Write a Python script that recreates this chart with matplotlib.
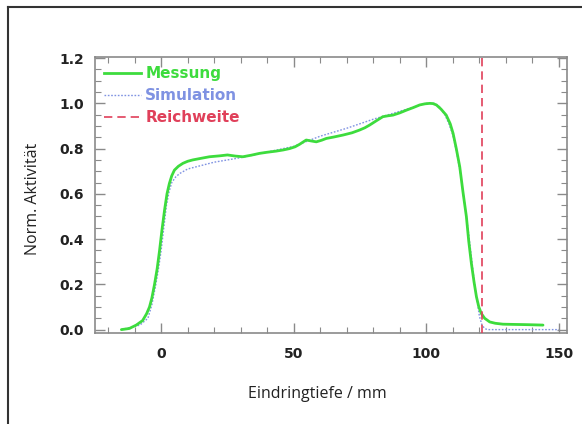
import numpy as np
import matplotlib
matplotlib.use("Agg")
import matplotlib.pyplot as plt
from matplotlib.lines import Line2D
from matplotlib.ticker import MultipleLocator

# ---- data ----
mess_x = [-15, -12, -9.4, -7, -5.5, -4.4, -3.5, -2.5, -1.5, -0.6, 0.3, 1.3, 2.2, 3.1,
          4.0, 5.0, 6.5, 8.2, 10, 11.9, 15, 18.2, 22, 25, 28, 30.8, 34, 37.1, 40,
          43.4, 46, 48.4, 50.5, 52.2, 53.5, 54.7, 56.5, 58.5, 60.5, 62.3, 65, 68.6,
          72, 74.8, 76.8, 78.6, 81, 83.6, 85.5, 87.4, 90, 92.5, 95, 97.5, 99.5, 101.3,
          102.5, 103.8, 105.5, 107.5, 109, 110.1, 111.3, 112.6, 113.8, 115.1, 116,
          117.0, 118, 118.9, 119.8, 120.8, 122, 123.9, 126, 128.9, 133, 137.7, 141, 144]
mess_y = [0.0, 0.005, 0.02, 0.04, 0.07, 0.10, 0.14, 0.20, 0.27, 0.35, 0.44, 0.53, 0.60,
          0.646, 0.68, 0.705, 0.722, 0.735, 0.744, 0.75, 0.757, 0.764, 0.768, 0.772,
          0.767, 0.764, 0.771, 0.779, 0.784, 0.789, 0.794, 0.80, 0.808, 0.819, 0.829,
          0.838, 0.834, 0.83, 0.837, 0.845, 0.851, 0.86, 0.87, 0.882, 0.892, 0.904,
          0.922, 0.941, 0.945, 0.948, 0.958, 0.97, 0.981, 0.993, 0.998, 1.0, 0.999,
          0.993, 0.975, 0.948, 0.91, 0.867, 0.80, 0.72, 0.61, 0.50, 0.39, 0.292, 0.21,
          0.145, 0.10, 0.07, 0.05, 0.034, 0.028, 0.024, 0.023, 0.022, 0.021, 0.02]

sim_x = [-15, -8, -5, -3.5, -2, -1, 0, 1, 2, 3, 4, 5.5, 7, 10, 15, 20, 30, 40, 50, 60,
         70, 80, 90, 100, 103, 105, 107, 108.5, 110, 111.5, 113, 114.5, 116, 117, 118,
         119, 120, 121, 122, 123, 150]
sim_y = [0.0, 0.02, 0.05, 0.11, 0.2, 0.27, 0.35, 0.45, 0.55, 0.61, 0.65, 0.675, 0.69,
         0.71, 0.725, 0.74, 0.76, 0.785, 0.81, 0.855, 0.89, 0.93, 0.965, 1.0, 1.0,
         0.985, 0.95, 0.91, 0.86, 0.78, 0.68, 0.55, 0.42, 0.32, 0.22, 0.14, 0.06,
         0.02, 0.005, 0.0, 0.0]

reichweite = 121.0

GREEN = "#3ddc3d"
BLUE = "#7f92e2"
RED = "#e0405a"
FRAME = "#8a8a8a"

fig = plt.figure(figsize=(5.82, 4.24), dpi=100)
ax = fig.add_axes([0.163, 0.2146, 0.811, 0.651])

ax.plot(sim_x, sim_y, color=BLUE, lw=1.0, ls=(0, (1.2, 1.2)), zorder=2)
ax.plot(mess_x, mess_y, color=GREEN, lw=2.0, zorder=3,
        solid_joinstyle="round", solid_capstyle="round")
ax.axvline(reichweite, color=RED, lw=1.2, ls=(0, (5, 3)), zorder=4)

ax.set_xlim(-25, 153)
ax.set_ylim(-0.015, 1.205)
ax.set_xticks([0, 50, 100, 150])
ax.set_yticks([0.0, 0.2, 0.4, 0.6, 0.8, 1.0, 1.2])
ax.set_yticklabels(["0.0", "0.2", "0.4", "0.6", "0.8", "1.0", "1.2"])
ax.xaxis.set_minor_locator(MultipleLocator(10))
ax.yaxis.set_minor_locator(MultipleLocator(0.05))
ax.tick_params(which="both", direction="in", top=True, right=True, color=FRAME)
ax.tick_params(which="major", length=7, width=1.0)
ax.tick_params(which="minor", length=4, width=0.8)
ax.tick_params(axis="x", which="major", pad=10)
ax.tick_params(axis="y", which="major", pad=8)
for lab in ax.get_xticklabels() + ax.get_yticklabels():
    lab.set_fontsize(10)
    lab.set_fontweight("bold")
    lab.set_color("#222222")
for sp in ax.spines.values():
    sp.set_color(FRAME)
    sp.set_linewidth(1.2)

# legend, no frame, coloured text
handles = [Line2D([], [], color=GREEN, lw=2.0),
           Line2D([], [], color=BLUE, lw=1.0, ls=(0, (1.2, 1.2))),
           Line2D([], [], color=RED, lw=1.2, ls=(0, (5, 3)))]
leg = ax.legend(handles, ["Messung", "Simulation", "Reichweite"], loc="upper left",
                frameon=False, handlelength=2.4, handletextpad=0.3,
                labelspacing=0.45, borderaxespad=0.3, borderpad=0.3,
                prop={"weight": "bold", "size": 11})
for txt, c in zip(leg.get_texts(), [GREEN, BLUE, RED]):
    txt.set_color(c)

fig.text(0.545, 0.07, "Eindringtiefe / mm", ha="center", va="center",
         fontsize=11.5, family="Open Sans", color="#222222")
fig.text(0.057, 0.53, "Norm. Aktivität", ha="center", va="center", rotation=90,
         fontsize=11.5, family="Open Sans", color="#222222")

# outer frame (top and left edges)
fig.add_artist(Line2D([0.0137, 1.0], [0.983, 0.983], transform=fig.transFigure,
                      color="#333333", lw=1.5))
fig.add_artist(Line2D([0.0137, 0.0137], [0.0, 0.983], transform=fig.transFigure,
                      color="#333333", lw=1.5))

fig.savefig("out.png", dpi=100, facecolor="white")
